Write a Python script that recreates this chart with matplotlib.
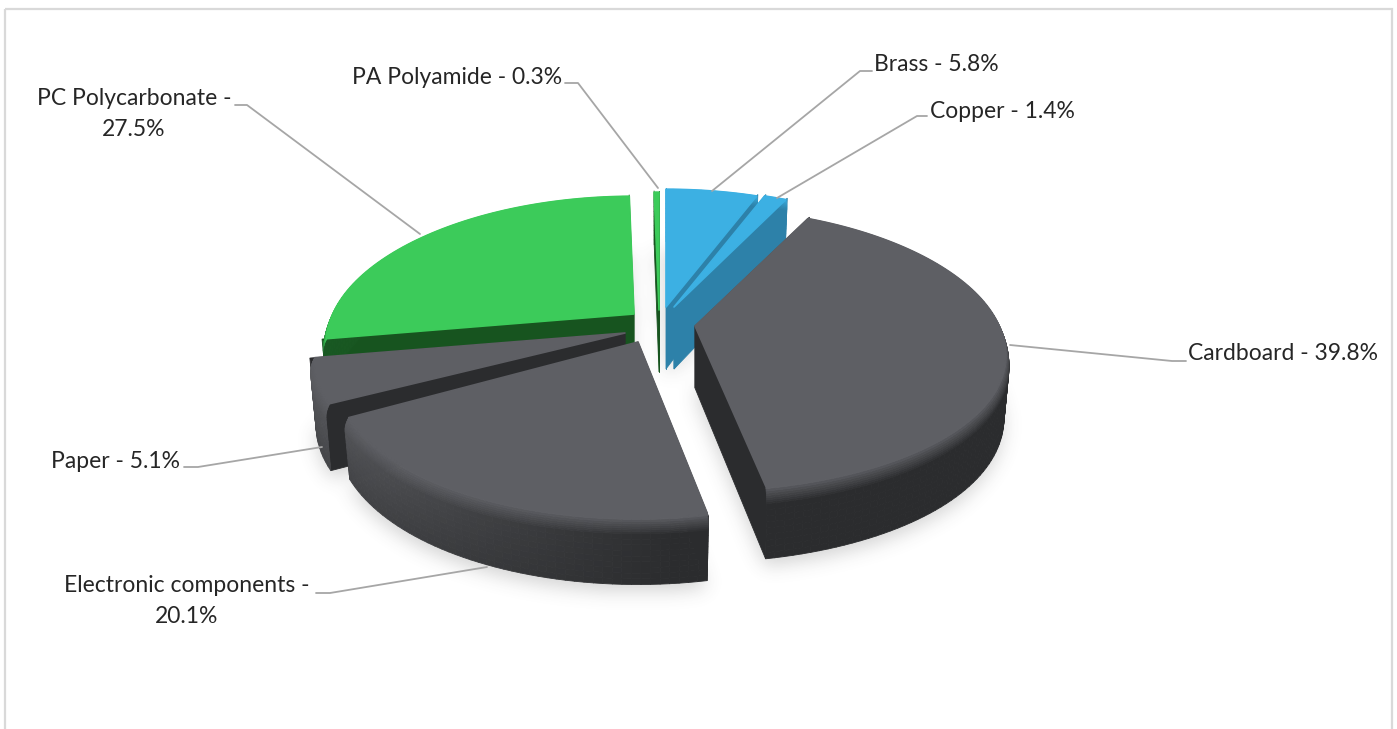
import numpy as np
import matplotlib
matplotlib.use('Agg')
import matplotlib.pyplot as plt
from matplotlib.collections import PolyCollection
from matplotlib.colors import to_rgb
from matplotlib.patches import Rectangle
from matplotlib.path import Path

plt.rcParams['font.family'] = ['Lato', 'DejaVu Sans']

# slices run clockwise from 12 o'clock
names = ['Brass', 'Copper', 'Cardboard', 'Electronic components', 'Paper', 'PC Polycarbonate', 'PA Polyamide']
values = [5.8, 1.4, 39.8, 20.1, 5.1, 27.5, 0.3]

# exploded offset of every slice, in pixels
explode_x = [14, 22, 43, -14, -27, -18, 7]
explode_y = [-15, -15, 4, 20, 11, -8, -12]
# the perspective is not quite even around the pie
stretch_x = [0.98, 0.98, 0.99, 0.97, 0.99, 0.98, 1]
stretch_y = [1, 1, 1, 1.07, 1, 1, 1]
wall_scale = [1, 1, 1, 0.92, 1, 1, 1]

top_cols = ['#3cb0e3', '#3cb0e3', '#5e5f64', '#5e5f64', '#5e5f64', '#3ccb5a', '#3ccb5a']
dark_cols = ['#2d81a9', '#2d81a9', '#2b2c2e', '#2b2c2e', '#2b2c2e', '#17541f', '#17541f']
lit_cols = ['#3a92bd', '#3a92bd', '#5a5b5f', '#5a5b5f', '#5a5b5f', '#1a5a24', '#1a5a24']

# label anchor (x, y, ha) and leader line
label_pos = [(874, 64, 'left'), (930, 111, 'left'), (1188, 353, 'left'), (187, 601, 'center'),
             (51, 461, 'left'), (134, 114, 'center'), (562, 77, 'right')]
wrapped = [False, False, False, True, False, True, False]
leaders = [[(712, 191), (860, 71), (872, 71)],
           [(777, 198), (917, 116), (927, 116)],
           [(1010, 345), (1172, 361), (1186, 361)],
           [(487, 567), (330, 593), (316, 593)],
           [(322, 447), (198, 467), (184, 467)],
           [(420, 234), (247, 105), (235, 105)],
           [(658, 188), (578, 83), (565, 83)]]

cx, cy = 652, 322
B, A = 312, 139
kx, ky = 0.2, 0.165
BEVEL = 13
W, H = 1397, 729


def project(theta, r=1.0):
    u, v = r * np.sin(theta), r * np.cos(theta)
    return B * u / (1 + kx * v), -A * v / (1 + ky * v)


def drop(v):
    return 62 - 8 * v


def mix(a, b, t):
    a, b = np.array(to_rgb(a)), np.array(to_rgb(b))
    return tuple(a + (b - a) * t)


def corner(i, theta, z_frac, r=1.0):
    x, y = project(theta, r)
    h = drop(np.cos(theta)) * wall_scale[i]
    ax0, ay0 = cx + explode_x[i], cy + explode_y[i]
    return ax0 + x * stretch_x[i] * (1 - 0.02 * z_frac), ay0 + y * stretch_y[i] + h * z_frac


def blur(img, sigma):
    n = int(sigma * 3)
    kernel = np.exp(-0.5 * (np.arange(-n, n + 1) / sigma) ** 2)
    kernel /= kernel.sum()
    img = np.apply_along_axis(lambda c: np.convolve(c, kernel, mode='same'), 0, img)
    return np.apply_along_axis(lambda c: np.convolve(c, kernel, mode='same'), 1, img)


fig = plt.figure(figsize=(13.97, 7.29), dpi=100)
ax = fig.add_axes([0, 0, 1, 1])

ax.add_patch(Rectangle((5, 9), 1387, 800, fill=False, ec='#d9d9d9', lw=1.6, zorder=1))

edges = np.cumsum([0] + values) / sum(values) * 2 * np.pi
angles = []
for i in range(len(values)):
    angles.append(np.linspace(edges[i], edges[i + 1], max(3, int((edges[i + 1] - edges[i]) / 0.025))))

# soft shadow under the slices, from their bottom outline
gx, gy = np.meshgrid(np.arange(0, W, 2) + 1, np.arange(0, H, 2) + 1)
grid = np.c_[gx.ravel(), gy.ravel()]
mask = np.zeros(gx.shape)
for i, t in enumerate(angles):
    bx, by = corner(i, t, 1.0)
    ax0, ay0 = cx + explode_x[i], cy + explode_y[i]
    outline = np.c_[np.r_[ax0, bx], np.r_[ay0 + drop(0) * wall_scale[i], by] + 8]
    mask += Path(outline).contains_points(grid).reshape(gx.shape)
mask = blur(np.clip(mask, 0, 1), 4.5)
shadow = np.zeros(mask.shape + (4,))
shadow[..., :3] = 0.3
shadow[..., 3] = mask * 0.24
ax.imshow(shadow, extent=(0, W, H, 0), aspect='auto', zorder=2, interpolation='bilinear')

# back slices first so the front ones cover them
for z, i in enumerate([6, 0, 1, 5, 4, 3, 2]):
    t = angles[i]
    ax0, ay0 = cx + explode_x[i], cy + explode_y[i]
    base = 10 + z * 3
    top, dark, lit = top_cols[i], dark_cols[i], lit_cols[i]

    # cut faces along the two radial edges
    for th in (t[0], t[-1]):
        x0, y0 = corner(i, th, 0)
        x1, y1 = corner(i, th, 1)
        ax.fill([ax0, x0, x1, ax0], [ay0, y0, y1, ay0 + drop(0) * wall_scale[i]], color=dark, lw=0.6, zorder=base)

    # outer wall with a rounded rim, drawn as small quads
    rim_frac = BEVEL / 62
    levels = np.r_[np.linspace(0, rim_frac, 9), np.linspace(rim_frac, 1, 10)[1:]]
    quads, cols = [], []
    for zi in range(len(levels) - 1, 0, -1):
        z0, z1 = levels[zi - 1], levels[zi]
        rim = min(z0 / rim_frac, 1)
        r0 = 1 - 0.015 * (1 - rim) ** 2
        r1 = 1 - 0.015 * (1 - min(z1 / rim_frac, 1)) ** 2
        for a, b in zip(t[:-1], t[1:]):
            xa, ya = corner(i, a, z0, r0)
            xb, yb = corner(i, b, z0, r0)
            xc, yc = corner(i, b, z1, r1)
            xd, yd = corner(i, a, z1, r1)
            quads.append([(xa, ya), (xb, yb), (xc, yc), (xd, yd)])
            lit_amt = np.clip((0.1 - np.sin((a + b) / 2)) / 1.1, 0, 1)
            wall = mix(dark, lit, lit_amt * (1 - 0.45 * z0))
            cols.append(mix(top, wall, rim ** 0.8))
    ax.add_collection(PolyCollection(quads, facecolors=cols, edgecolors=cols, linewidths=0.6, zorder=base + 1))

    # top face
    tx, ty = corner(i, t, 0, 0.985)
    ax.fill(np.r_[ax0, tx], np.r_[ay0, ty], facecolor=top, edgecolor=top, lw=1.2,
            joinstyle='round', zorder=base + 2)

# leader lines and labels
for i, name in enumerate(names):
    pts = np.array(leaders[i])
    ax.plot(pts[:, 0], pts[:, 1], color='#a6a6a6', lw=1.3, zorder=40, solid_capstyle='round')
    sep = ' -\n' if wrapped[i] else ' - '
    x, y, ha = label_pos[i]
    ax.text(x, y, f'{name}{sep}{values[i]}%', ha=ha, va='center', fontsize=16.5, color='#262626',
            linespacing=1.55, multialignment='center', zorder=41)

ax.set_xlim(0, W)
ax.set_ylim(H, 0)
ax.axis('off')

fig.savefig('out.png', dpi=100)
